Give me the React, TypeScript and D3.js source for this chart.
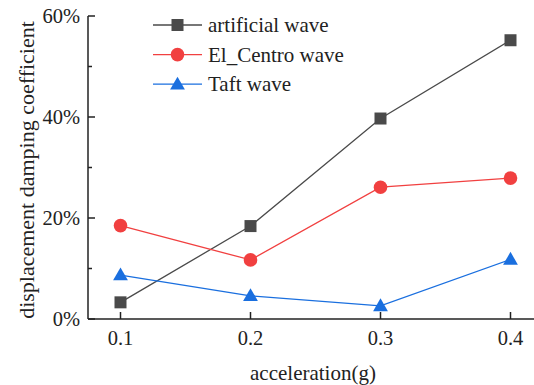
import React from "react";
import * as d3 from "d3";

const accel = [0.1, 0.2, 0.3, 0.4];
const artificialWave = [3.3, 18.4, 39.7, 55.2];
const elCentroWave = [18.5, 11.7, 26.1, 27.9];
const taftWave = [8.7, 4.6, 2.6, 11.8];
const yTicks = [0, 20, 40, 60];
const yMinorTicks = [10, 30, 50];

const series = [
    { name: "artificial wave", values: artificialWave, color: "#4a4a4a", marker: "square" },
    { name: "El_Centro wave", values: elCentroWave, color: "#f14040", marker: "circle" },
    { name: "Taft wave", values: taftWave, color: "#1a6fdf", marker: "triangle" },
];

const W = 534;
const H = 385;
const txt: React.CSSProperties = { fontFamily: "Liberation Serif, serif" };

function Marker({ type, x, y, color }: { type: string; x: number; y: number; color: string }) {
    if (type === "square") return <rect x={x - 6} y={y - 6} width={12} height={12} fill={color} />;
    if (type === "circle") return <circle cx={x} cy={y} r={6.8} fill={color} />;
    const sym = d3.symbol().type(d3.symbolTriangle).size(95)();
    return <path d={sym || ""} transform={`translate(${x},${y + 1})`} fill={color} />;
}

export default function App() {
    const x = d3.scaleLinear().domain([0.075, 0.425]).range([88, 543]);
    const y = d3.scaleLinear().domain([0, 60]).range([319, 16]);
    const line = d3.line<number>()
        .x((_, i) => x(accel[i]))
        .y(d => y(d));

    return (
        <svg width={W} height={H} style={{ position: "fixed", left: 0, top: 0, background: "#fff" }}>
            {/* axes */}
            <line x1={88} x2={88} y1={y(60)} y2={y(0)} stroke="#222" strokeWidth={1.5} />
            <line x1={88} x2={W} y1={y(0)} y2={y(0)} stroke="#222" strokeWidth={1.5} />
            {yTicks.map(t => (
                <g key={t}>
                    <line x1={88} x2={95} y1={y(t)} y2={y(t)} stroke="#222" strokeWidth={1.5} />
                    <text x={80} y={y(t) + 7} textAnchor="end" fontSize={20.5} fill="#222" style={txt}>{t}%</text>
                </g>
            ))}
            {yMinorTicks.map(t => (
                <line key={t} x1={88} x2={92} y1={y(t)} y2={y(t)} stroke="#222" strokeWidth={1.5} />
            ))}
            {accel.map(a => (
                <g key={a}>
                    <line x1={x(a)} x2={x(a)} y1={y(0)} y2={y(0) - 7} stroke="#222" strokeWidth={1.5} />
                    <text x={x(a)} y={345} textAnchor="middle" fontSize={20.5} fill="#222" style={txt}>{a.toFixed(1)}</text>
                </g>
            ))}
            <text x={313} y={380} textAnchor="middle" fontSize={21} fill="#222" style={txt}>acceleration(g)</text>
            <text transform="translate(34,170) rotate(-90)" textAnchor="middle" fontSize={22} fill="#222" style={txt}>
                displacement damping coefficient
            </text>

            {/* series */}
            {series.map(s => (
                <g key={s.name}>
                    <path d={line(s.values) || ""} fill="none" stroke={s.color} strokeWidth={1.3} />
                    {s.values.map((v, i) => (
                        <Marker key={i} type={s.marker} x={x(accel[i])} y={y(v)} color={s.color} />
                    ))}
                </g>
            ))}

            {/* legend */}
            {series.map((s, i) => {
                const ly = 25 + i * 29.6;
                return (
                    <g key={s.name}>
                        <line x1={153} x2={202} y1={ly} y2={ly} stroke={s.color} strokeWidth={1.3} />
                        <Marker type={s.marker} x={177.5} y={ly} color={s.color} />
                        <text x={208} y={ly + 7} fontSize={21} fill="#222" style={txt}>{s.name}</text>
                    </g>
                );
            })}
        </svg>
    );
}
